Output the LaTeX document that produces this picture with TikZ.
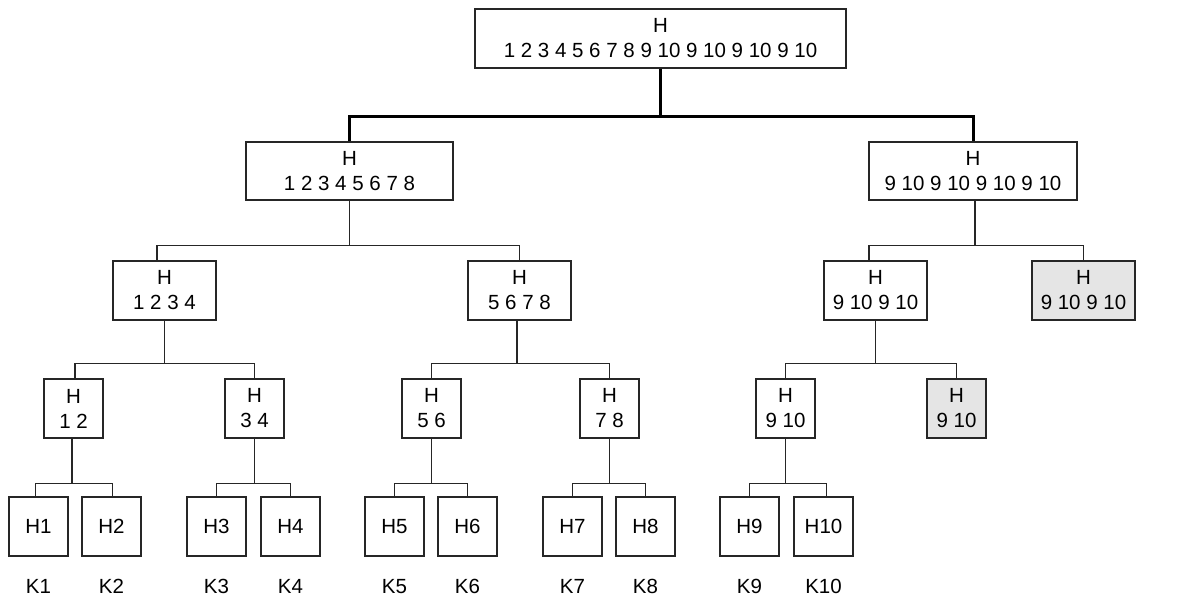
\documentclass[tikz,border=0pt]{standalone}
\usepackage{fontspec}
\setmainfont{Liberation Sans}
\usetikzlibrary{positioning}

\tikzset{every picture/.style={line width=1.4pt}}
\tikzset{
  hbox/.style={draw=black!85, fill=white, inner sep=0pt, align=center,
    font=\fontsize{20.5}{25}\selectfont},
  hgray/.style={hbox, fill=black!10},
  klabel/.style={inner sep=0pt, font=\fontsize{20.5}{25}\selectfont},
  link/.style={draw=black!85, line width=1.4pt},
  trunk/.style={draw=black, line width=3pt}
}

\begin{document}
\begin{tikzpicture}[x=1pt,y=1pt,yscale=-1,xscale=1]
    \useasboundingbox (0,0) rectangle (1190,605);

    % Root
    \node [hbox, minimum width=371, minimum height=59] (root) at (660.5,38.5) {H\\1 2 3 4 5 6 7 8 9 10 9 10 9 10 9 10};

    % Level 1
    \node [hbox, minimum width=207, minimum height=58] (h18) at (349.5,171) {H\\1 2 3 4 5 6 7 8};
    \node [hbox, minimum width=208, minimum height=58] (h910a) at (973,171) {H\\9 10 9 10 9 10 9 10};

    % Level 2
    \node [hbox, minimum width=103, minimum height=59] (h14) at (164.5,290.5) {H\\1 2 3 4};
    \node [hbox, minimum width=103, minimum height=59] (h58) at (519.5,290.5) {H\\5 6 7 8};
    \node [hbox, minimum width=103, minimum height=59] (h910b) at (875.5,290.5) {H\\9 10 9 10};
    \node [hgray, minimum width=103, minimum height=59] (g910b) at (1083.5,290.5) {H\\9 10 9 10};

    % Level 3
    \node [hbox, minimum width=59, minimum height=59] (h12) at (73.5,408.5) {H\\1 2};
    \node [hbox, minimum width=59, minimum height=59] (h34) at (254.5,408.5) {H\\3 4};
    \node [hbox, minimum width=59, minimum height=59] (h56) at (431.5,408.5) {H\\5 6};
    \node [hbox, minimum width=59, minimum height=59] (h78) at (609.5,408.5) {H\\7 8};
    \node [hbox, minimum width=59, minimum height=59] (h910c) at (785.5,408.5) {H\\9 10};
    \node [hgray, minimum width=59, minimum height=59] (g910c) at (956.5,408.5) {H\\9 10};

    % Leaves and key labels
    \foreach \i/\x in {1/38.5,2/111.5,3/216.5,4/290.5,5/394.5,6/467.5,7/572.5,8/645.5,9/749.5,10/823.5} {
      \node [hbox, minimum width=59, minimum height=59] (H\i) at (\x,526.5) {H\i};
      \node [klabel, below=22pt of H\i] (K\i) {K\i};
    }

    % Connectors
    \draw [trunk] (root.south) -- ++(0,48) coordinate (j0);
    \draw [trunk] (h18.north) |- (j0) -| (h910a.north);

    \path (h18.south) -- ++(0,45) coordinate (j1);
    \draw [link] (h18.south) -- (j1);
    \draw [link] ([xshift=-7.5pt]h14.north) |- (j1) -| (h58.north);
    \path ([xshift=2pt]h910a.south) -- ++(0,45) coordinate (j2);
    \draw [link] ([xshift=2pt]h910a.south) -- (j2);
    \draw [link] ([xshift=-6.5pt]h910b.north) |- (j2) -| (g910b.north);

    \path (h14.south) -- ++(0,43) coordinate (j3);
    \draw [link] (h14.south) -- (j3);
    \draw [link] ([xshift=1.5pt]h12.north) |- (j3) -| (h34.north);
    \path ([xshift=-2.5pt]h58.south) -- ++(0,43) coordinate (j4);
    \draw [link] ([xshift=-2.5pt]h58.south) -- (j4);
    \draw [link] (h56.north) |- (j4) -| (h78.north);
    \path (h910b.south) -- ++(0,43) coordinate (j5);
    \draw [link] (h910b.south) -- (j5);
    \draw [link] (h910c.north) |- (j5) -| (g910c.north);

    \path ([xshift=-1.5pt]h12.south) -- ++(0,45) coordinate (jh12);
    \draw [link] ([xshift=-1.5pt]h12.south) -- (jh12);
    \draw [link] ([xshift=-3pt]H1.north) |- (jh12) -| ([xshift=1pt]H2.north);
    \foreach \p/\a/\b in {h34/H3/H4, h56/H5/H6, h78/H7/H8} {
      \path (\p.south) -- ++(0,45) coordinate (j\p);
      \draw [link] (\p.south) -- (j\p);
      \draw [link] (\a.north) |- (j\p) -| (\b.north);
    }
    \path (h910c.south) -- ++(0,45) coordinate (jh910c);
    \draw [link] (h910c.south) -- (jh910c);
    \draw [link] (H9.north) |- (jh910c) -| ([xshift=3pt]H10.north);
\end{tikzpicture}
\end{document}
